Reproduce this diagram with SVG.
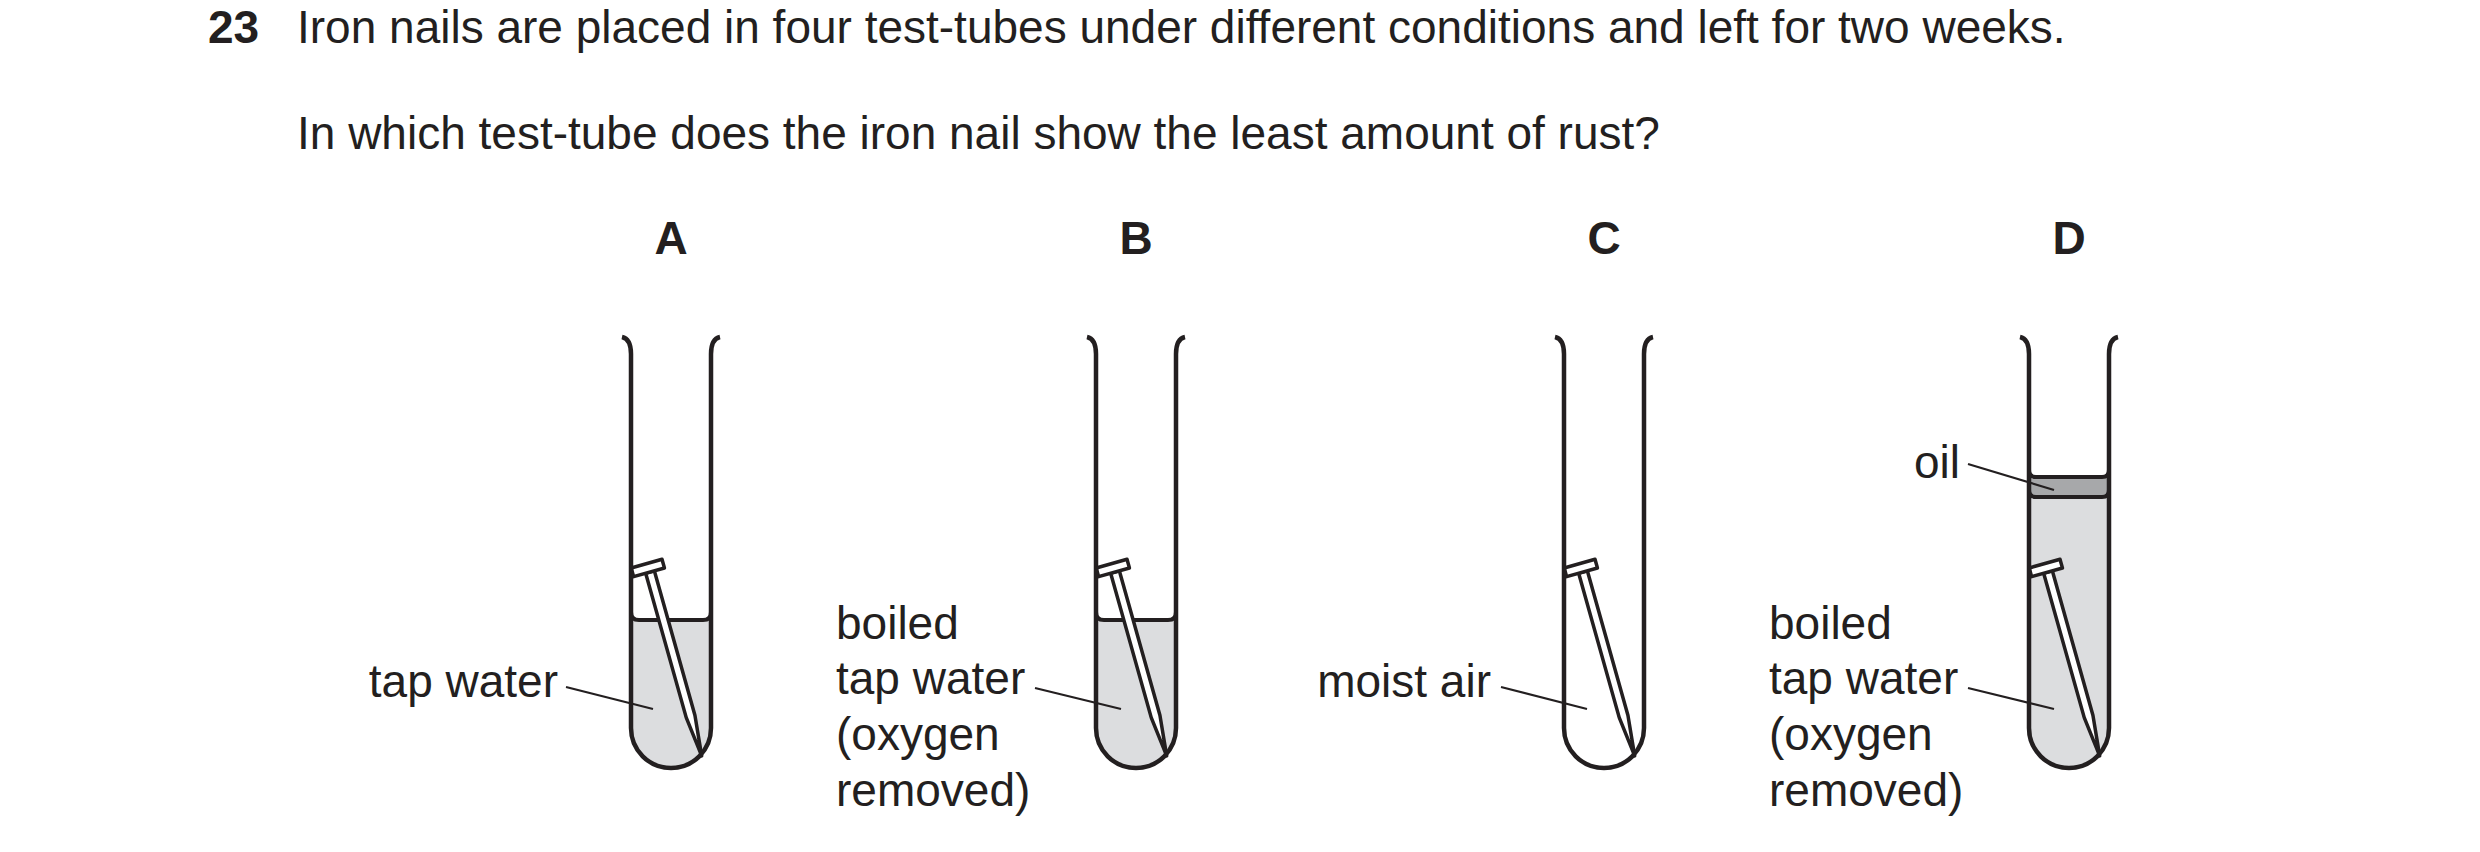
<svg xmlns="http://www.w3.org/2000/svg" xmlns:xlink="http://www.w3.org/1999/xlink" width="2480" height="852" viewBox="0 0 2480 852">
<style>
text{font-family:"Liberation Sans",Arial,sans-serif;font-size:46px;fill:#231f20}
.b{font-weight:bold}
.tube{fill:none;stroke:#231f20;stroke-width:4.5}
.water{fill:#dcdddf}
.oil{fill:#a7a8aa}
.surf{fill:none;stroke:#231f20;stroke-width:4}
.lead{stroke:#231f20;stroke-width:2.2;fill:none}
.nail{fill:#fff;stroke:#231f20;stroke-width:3.5;stroke-linejoin:round}
</style>
<defs>
<path id="tube" class="tube" d="M-49,337 Q-40,339 -40,354 V728 A40,40 0 0 0 40,728 V354 Q40,339 49,337"/>
<g id="nail">
<path class="nail" d="M-4.5,0 V150 L0,191 L4.5,150 V0 Z"/>
<rect class="nail" x="-17" y="-9" width="32" height="9"/>
</g>
</defs>
<text x="208" y="43" class="b">23</text>
<text x="297" y="43">Iron nails are placed in four test-tubes under different conditions and left for two weeks.</text>
<text x="297" y="149">In which test-tube does the iron nail show the least amount of rust?</text>
<g id="A">
<text x="671" y="254" class="b" text-anchor="middle">A</text>
<path class="water" d="M631,612 Q631,620 639,620 H703 Q711,620 711,612 V728 A40,40 0 0 1 631,728 Z"/>
<path class="surf" d="M631,612 Q631,620 639,620 H703 Q711,620 711,612"/>
<use xlink:href="#nail" transform="translate(650,572) rotate(-15.7)"/>
<use xlink:href="#tube" transform="translate(671,0)"/>
<text x="558" y="697" text-anchor="end">tap water</text>
</g>
<g id="B">
<text x="1136" y="254" class="b" text-anchor="middle">B</text>
<path class="water" d="M1096,612 Q1096,620 1104,620 H1168 Q1176,620 1176,612 V728 A40,40 0 0 1 1096,728 Z"/>
<path class="surf" d="M1096,612 Q1096,620 1104,620 H1168 Q1176,620 1176,612"/>
<use xlink:href="#nail" transform="translate(1115,572) rotate(-15.7)"/>
<use xlink:href="#tube" transform="translate(1136,0)"/>
<text x="836" y="639">boiled</text>
<text x="836" y="694">tap water</text>
<text x="836" y="750">(oxygen</text>
<text x="836" y="806">removed)</text>
</g>
<g id="C">
<text x="1604" y="254" class="b" text-anchor="middle">C</text>
<use xlink:href="#nail" transform="translate(1583,572) rotate(-15.7)"/>
<use xlink:href="#tube" transform="translate(1604,0)"/>
<text x="1491" y="697" text-anchor="end">moist air</text>
</g>
<g id="D">
<text x="2069" y="254" class="b" text-anchor="middle">D</text>
<path class="water" d="M2029,490 H2109 V728 A40,40 0 0 1 2029,728 Z"/>
<path class="oil" d="M2029,470 Q2029,477 2036,477 H2102 Q2109,477 2109,470 V490 Q2109,497 2102,497 H2036 Q2029,497 2029,490 Z"/>
<path class="surf" d="M2029,470 Q2029,477 2036,477 H2102 Q2109,477 2109,470 M2029,490 Q2029,497 2036,497 H2102 Q2109,497 2109,490"/>
<use xlink:href="#nail" transform="translate(2048,572) rotate(-15.7)"/>
<use xlink:href="#tube" transform="translate(2069,0)"/>
<text x="1960" y="478" text-anchor="end">oil</text>
<text x="1769" y="639">boiled</text>
<text x="1769" y="694">tap water</text>
<text x="1769" y="750">(oxygen</text>
<text x="1769" y="806">removed)</text>
</g>
<g id="connectors">
<line class="lead" x1="566" y1="687" x2="653" y2="709"/>
<line class="lead" x1="1035" y1="688" x2="1121" y2="709"/>
<line class="lead" x1="1501" y1="687" x2="1587" y2="709"/>
<line class="lead" x1="1968" y1="464" x2="2054" y2="490"/>
<line class="lead" x1="1968" y1="688" x2="2054" y2="709"/>
</g>
</svg>
